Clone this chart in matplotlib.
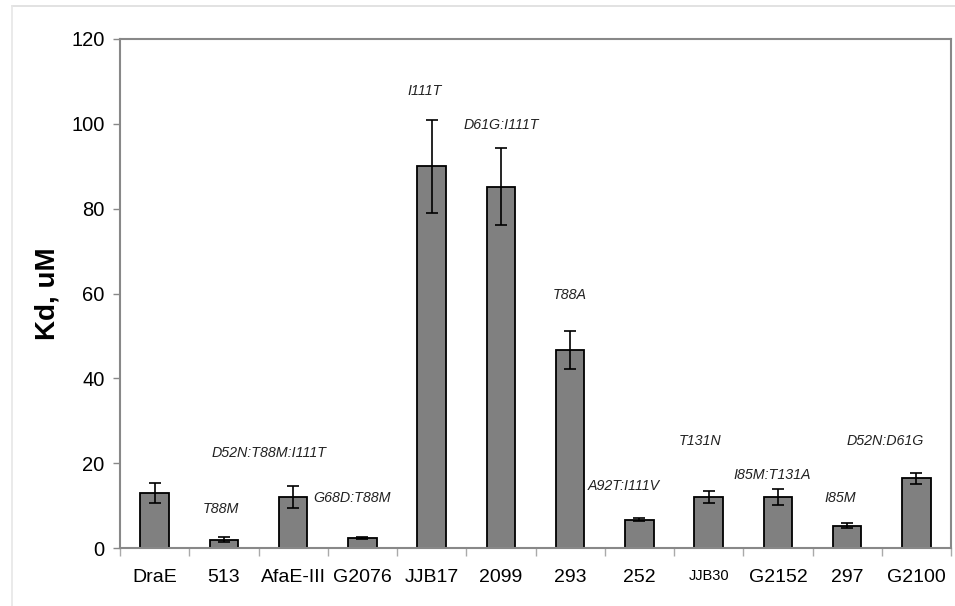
import numpy as np
import matplotlib.pyplot as plt
from matplotlib.lines import Line2D

plt.rcParams['font.family'] = ['Liberation Sans', 'DejaVu Sans']

# binding constants per strain
strains = ['DraE', '513', 'AfaE-III', 'G2076', 'JJB17', '2099',
           '293', '252', 'JJB30', 'G2152', '297', 'G2100']
kd = [13.0, 2.0, 12.0, 2.4, 90.0, 85.2, 46.6, 6.7, 12.0, 12.0, 5.3, 16.4]
kd_err = [2.4, 0.5, 2.6, 0.3, 11.0, 9.0, 4.5, 0.3, 1.5, 1.9, 0.6, 1.2]

# mutations of each strain relative to DraE
mutations = ['', 'T88M', 'D52N:T88M:I111T', 'G68D:T88M', 'I111T', 'D61G:I111T',
             'T88A', 'A92T:I111V', 'T131N', 'I85M:T131A', 'I85M', 'D52N:D61G']
# where the mutation labels sit (x shift in bar units, height in Kd)
note_dx = [0, -0.05, -0.35, -0.15, -0.1, 0, 0, -0.23, -0.13, -0.08, -0.1, -0.45]
note_y = [0, 9.2, 22.5, 11.7, 107.8, 99.8, 59.7, 14.5, 25.2, 17.2, 11.7, 25.2]

fig = plt.figure(figsize=(9.55, 6.06), dpi=100)
ax = fig.add_axes([120 / 955, 58 / 606, 831 / 955, 509 / 606])

x = np.arange(len(strains))
ax.bar(x, kd, width=0.41, color='#808080', edgecolor='black', linewidth=1.3, zorder=2)
ax.errorbar(x, kd, yerr=kd_err, fmt='none', ecolor='black', elinewidth=1.2,
            capsize=4, capthick=1.2, zorder=3)

for i, txt in enumerate(mutations):
    if txt:
        ax.text(x[i] + note_dx[i], note_y[i], txt, style='italic', fontsize=10.3,
                ha='center', va='center', color='#222222')

ax.set_xlim(-0.5, len(strains) - 0.5)
ax.set_ylim(0, 120)
ax.set_yticks(np.arange(0, 121, 20))
ax.tick_params(axis='y', labelsize=14.5, length=5, width=1, color='#888888', pad=6)

ax.set_xticks(x)
ax.set_xticklabels(strains, fontsize=14)
ax.get_xticklabels()[8].set_fontsize(10.5)
ax.tick_params(axis='x', length=0, pad=15)
ax.set_xticks(np.arange(-0.5, len(strains)), minor=True)
ax.tick_params(axis='x', which='minor', length=6, width=1, color='#aaaaaa')

for side in ax.spines.values():
    side.set_color('#888888')
    side.set_linewidth(1.5)

ax.set_ylabel('Kd, uM', fontsize=20, fontweight='bold', labelpad=8)

# light frame around the figure
fig.add_artist(Line2D([12 / 955, 1], [1 - 6 / 606] * 2, color='#dddddd', lw=1.2))
fig.add_artist(Line2D([12 / 955] * 2, [0, 1 - 6 / 606], color='#e6e6e6', lw=1.2))

fig.savefig('out.png', dpi=100)
